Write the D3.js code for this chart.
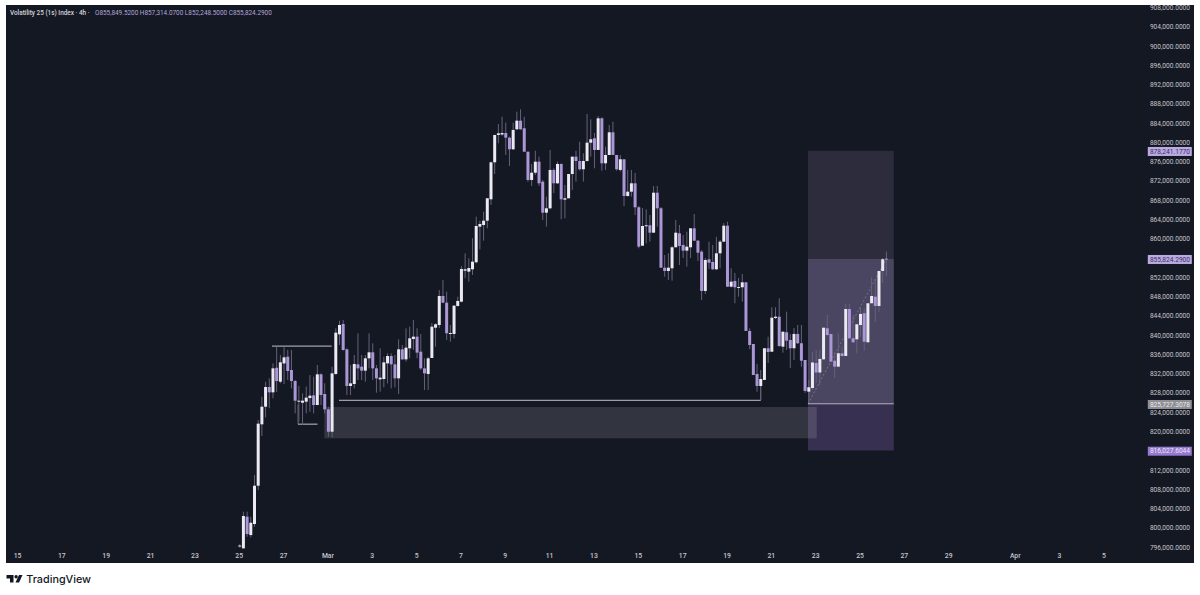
<!DOCTYPE html>
<html>
<head>
<meta charset="utf-8">
<title>Volatility 25 (1s) Index</title>
<script src="https://cdn.jsdelivr.net/npm/d3@7"></script>
<style>
html, body { margin: 0; padding: 0; background: #fff; }
svg { display: block; }
text { font-family: Roboto, "Open Sans", sans-serif; }
</style>
</head>
<body>
<div id="chart"></div>
<script>
// prices in thousands, one bar every 4h starting on 25 Feb
const opens = [796.2,795.72,802.29,798.48,800.77,808.72,821.46,825.12,829.21,828.1,833.2,830.31,834.1,835.5,832.74,830.45,826.16,825.95,826.16,826.92,827.48,825.47,831.84,827.75,824.57,819.93,
831.91,840.14,842.29,837.03,829.42,829.83,833.91,833.43,832.6,835.16,836.41,833.08,830.8,830.87,834.12,835.64,833.91,831.01,837.03,834.95,837.24,839.17,839.66,836.54,833.08,831.91,
835.23,841.52,842.08,848.1,846.71,840.26,840.22,846.03,846.92,853.35,853.15,853.64,855.1,862.49,862.84,863.73,868.17,875.85,881.52,881.62,881.93,880.96,878.55,882.7,884.49,882.91,
878.05,872.18,873.69,875.98,871.83,865.39,866.3,874.26,871.49,875.5,868.09,868.38,873.42,877.02,876.12,874.4,876.12,879.92,880.83,878.41,884.98,875.64,877.37,882.08,877.37,874.26,
876.48,868.86,869.75,871.49,866.51,858.54,862.57,862.78,861.24,869.54,866.3,853.97,853.29,853.85,858.21,861.11,858.69,857.51,858.21,862.15,859.58,857.3,849.14,855.72,855.16,853.64,
856.96,859.37,862.69,850.03,851.22,849.82,849.91,850.94,840.84,838.14,831.91,829.42,830.67,837.25,836.54,843.53,843.8,837.58,840.57,838.97,837.25,840.22,838.29,834.82,828.24,829.0,
834.2,832.22,834.96,841.4,840.22,834.67,833.43,836.21,835.65,845.4,839.32,839.11,842.08,844.51,838.49,846.59,847.96,846.03,853.29,855.85];
const closes = [796.3,802.43,798.69,801.04,808.72,821.6,825.12,829.21,828.1,833.08,830.45,834.33,835.37,832.53,830.45,826.37,826.37,826.37,827.0,827.41,825.47,831.84,827.55,824.57,819.93,832.04,
840.49,842.08,836.89,829.42,829.97,833.98,833.08,832.6,835.16,836.41,833.08,831.01,831.15,834.33,835.64,833.91,831.01,837.03,834.95,837.37,839.31,839.66,836.34,833.08,832.05,835.16,
841.73,842.23,848.1,846.71,840.36,840.42,846.09,847.07,853.71,853.64,853.91,855.22,862.63,863.05,863.73,868.38,875.85,881.52,881.87,881.93,880.96,878.55,882.56,884.49,882.7,878.05,
872.18,873.69,875.98,871.49,865.39,866.3,874.26,871.49,875.5,868.17,868.38,873.42,877.02,876.12,874.4,876.12,879.92,880.63,878.41,884.98,875.64,877.37,882.08,877.37,874.4,876.48,
868.86,869.75,871.49,866.51,858.34,862.63,862.78,861.24,869.54,866.3,853.97,853.29,853.97,858.21,861.24,858.48,857.51,858.34,862.15,859.58,857.09,849.14,855.57,855.01,853.64,856.96,
859.37,862.69,850.03,851.07,849.91,849.97,850.94,840.84,837.93,831.7,829.42,830.87,837.25,836.48,843.6,843.8,837.73,840.69,838.83,837.25,840.22,838.29,834.67,828.4,829.15,834.3,
832.22,835.03,841.52,840.0,834.47,833.43,836.21,835.65,845.4,839.32,838.49,842.23,844.37,838.61,846.59,848.1,846.03,853.29,855.72,855.82];
const highs = [796.6,803.33,803.33,802.29,810.94,822.36,827.2,830.3,831.0,834.1,837.6,835.85,837.44,836.9,836.9,830.66,829.41,827.9,829.3,831.7,831.35,833.77,832.04,829.97,825.12,833.43,
841.39,842.98,843.12,837.24,833.77,835.85,840.35,835.85,835.85,840.35,838.27,833.77,837.24,835.5,836.2,836.2,835.85,839.1,837.93,841.39,841.73,843.12,841.39,840.21,835.16,835.5,
842.5,842.44,849.35,851.42,849.0,842.08,846.23,847.96,854.33,856.96,855.93,860.08,864.56,863.73,865.6,868.44,875.98,881.52,883.8,885.32,884.07,881.17,884.07,886.36,886.85,885.32,
878.05,875.5,878.26,877.02,872.18,868.71,878.41,874.61,875.98,875.64,871.14,873.42,877.02,878.26,880.13,877.72,885.88,884.78,881.93,885.46,885.19,879.09,883.59,884.28,877.37,877.37,
876.48,874.26,874.26,873.63,866.78,866.37,866.1,864.91,870.93,870.93,866.57,856.61,856.96,858.48,863.88,862.84,860.76,861.45,862.15,865.12,859.72,857.65,855.99,859.37,858.69,860.41,
859.72,863.25,863.52,853.85,852.88,851.84,852.67,851.0,841.4,838.14,833.99,832.74,837.31,839.65,845.76,845.76,847.62,840.69,844.84,840.22,841.46,842.08,842.08,834.82,830.67,836.42,
836.89,836.89,841.52,844.16,840.22,836.54,840.36,837.58,846.44,846.44,844.16,842.29,845.88,845.61,846.65,851.98,851.57,853.29,855.99,857.31];
const lows = [795.9,795.72,798.14,798.0,800.21,807.82,819.03,822.9,824.8,826.85,828.2,829.97,829.83,830.66,828.93,823.74,822.01,821.3,823.74,824.09,823.74,825.47,825.47,823.74,818.9,818.76,
831.7,837.93,836.75,827.55,827.55,828.93,830.66,830.66,830.32,833.08,830.66,828.03,828.24,829.14,829.97,828.93,829.14,827.76,834.81,834.47,835.16,836.89,835.16,832.74,828.59,828.59,
835.23,837.58,841.46,846.65,838.97,838.62,839.32,845.88,846.79,851.78,851.07,852.46,854.89,857.79,859.58,862.15,866.99,873.42,879.8,881.31,877.37,875.08,878.41,882.56,882.56,878.05,
871.83,870.93,873.22,870.93,863.88,862.49,866.1,869.42,871.35,864.02,864.23,868.38,870.1,871.83,874.11,871.83,875.98,877.02,874.61,878.41,874.11,874.26,877.37,877.37,874.11,873.9,
866.78,868.71,868.71,864.91,858.0,858.48,859.04,859.37,861.24,862.49,853.97,852.11,851.42,851.28,858.21,854.54,855.99,854.18,855.99,859.52,855.37,847.27,848.52,853.71,853.5,853.5,
853.85,859.31,849.97,849.87,846.59,847.96,846.92,840.84,837.04,831.7,828.24,826.52,830.67,834.2,836.48,843.33,837.52,836.33,836.89,833.16,834.82,838.14,833.42,828.0,825.89,828.59,
830.05,829.63,834.82,839.8,834.4,831.08,833.36,835.44,835.65,839.18,838.35,836.21,839.59,836.75,838.49,846.59,842.77,844.84,850.8,852.25];

const priceTicks = d3.range(796, 909, 4);
const dateTicks = [["2025-02-15","15"],["2025-02-17","17"],["2025-02-19","19"],["2025-02-21","21"],["2025-02-23","23"],["2025-02-25","25"],["2025-02-27","27"],
  ["2025-03-01","Mar"],["2025-03-03","3"],["2025-03-05","5"],["2025-03-07","7"],["2025-03-09","9"],["2025-03-11","11"],["2025-03-13","13"],["2025-03-15","15"],
  ["2025-03-17","17"],["2025-03-19","19"],["2025-03-21","21"],["2025-03-23","23"],["2025-03-25","25"],["2025-03-27","27"],["2025-03-29","29"],
  ["2025-04-01","Apr"],["2025-04-03","3"],["2025-04-05","5"]];

// position tool levels
const levelTarget = 878.2411770;
const levelClose = 855.8242900;
const levelEntry = 825.7273078;
const levelStop = 816.0276044;
const zoneTop = 825.05;
const zoneBottom = 818.55;
const highLine = 837.7;
const lowLine = 821.5;
const supportLine = 826.45;

const W = 1200, H = 595;
const svg = d3.select("#chart").append("svg").attr("width", W).attr("height", H);

const startDay = new Date(Date.UTC(2025, 1, 15));
const x = d3.scaleUtc()
  .domain([startDay, new Date(Date.UTC(2025, 3, 5))])
  .range([17, 1103.4]);
const y = d3.scaleLinear().domain([796, 908]).range([547, 7.4]);

const firstBar = new Date(Date.UTC(2025, 1, 25));
const bars = opens.map((o, i) => ({
  t: d3.utcHour.offset(firstBar, 4 * i), o, c: closes[i], h: highs[i], l: lows[i]
}));
const barShift = 1; // candles sit a touch right of the date ticks
const barX = i => x(bars[i].t) + barShift;

// panel
svg.append("rect").attr("x", 6).attr("y", 5).attr("width", 1188).attr("height", 558).attr("fill", "#141823");

// long position box, bars[154] is the entry candle
const boxL = barX(154) - 0.8, boxR = 893.8;
const box = svg.append("g");
box.append("rect").attr("x", boxL).attr("width", boxR - boxL)
  .attr("y", y(levelTarget)).attr("height", y(levelClose) - y(levelTarget)).attr("fill", "#2c2c3c");
box.append("rect").attr("x", boxL).attr("width", boxR - boxL)
  .attr("y", y(levelClose)).attr("height", y(levelEntry) - y(levelClose)).attr("fill", "#4a4560");
box.append("rect").attr("x", boxL).attr("width", boxR - boxL)
  .attr("y", y(levelEntry)).attr("height", y(levelStop) - y(levelEntry)).attr("fill", "#383050");

// demand zone
svg.append("rect").attr("x", 324.3).attr("width", 816.7 - 324.3)
  .attr("y", y(zoneTop)).attr("height", y(zoneBottom) - y(zoneTop))
  .attr("fill", "#ffffff").attr("fill-opacity", 0.13);

box.append("line").attr("x1", boxL).attr("x2", boxR).attr("y1", y(levelEntry)).attr("y2", y(levelEntry))
  .attr("stroke", "#b5b3c0").attr("stroke-width", 1);
svg.append("line").attr("x1", boxL).attr("y1", y(levelEntry)).attr("x2", barX(175)).attr("y2", y(levelClose))
  .attr("stroke", "#ffffff").attr("stroke-opacity", 0.25).attr("stroke-dasharray", "2,2");

// hand drawn levels
const drawn = [
  [272, 331.7, highLine, highLine],
  [298, 317.5, lowLine, lowLine],
  [298, 298, lowLine, 825.6],
  [339, 760.7, supportLine, supportLine],
  [760.7, 760.7, supportLine, 829.4]
];
svg.append("g").selectAll("line").data(drawn).join("line")
  .attr("x1", d => d[0]).attr("x2", d => d[1])
  .attr("y1", d => y(d[2])).attr("y2", d => y(d[3]))
  .attr("stroke", "#c4c4c8").attr("stroke-width", 1)
  .attr("stroke-opacity", d => d[0] === d[1] ? 0.45 : 1);

// candles
const candles = svg.append("g").selectAll("g").data(bars).join("g")
  .attr("transform", d => `translate(${x(d.t) + barShift},0)`);
candles.append("line")
  .attr("y1", d => y(d.h)).attr("y2", d => y(d.l))
  .attr("stroke", "#64627a").attr("stroke-width", 1);
candles.append("rect")
  .attr("x", -1.5).attr("width", 3)
  .attr("y", d => y(Math.max(d.o, d.c)))
  .attr("height", d => Math.max(1, Math.abs(y(d.o) - y(d.c))))
  .attr("fill", d => d.c >= d.o ? "#ebe9f2" : "#ab97d8");

// price axis
const yAxis = svg.append("g").attr("transform", "translate(1190,0)")
  .call(d3.axisLeft(y).tickValues(priceTicks).tickSize(0).tickPadding(0)
    .tickFormat(d => d3.format(",.4f")(d * 1000)));
yAxis.select(".domain").remove();
yAxis.selectAll("text").attr("fill", "#c6c7cd").style("font-size", "6.6px").style("font-family", "Roboto");

// time axis
const xAxis = svg.append("g").attr("transform", "translate(0,553)")
  .call(d3.axisBottom(x).tickValues(dateTicks.map(d => new Date(d[0] + "T00:00:00Z"))).tickSize(0).tickPadding(0)
    .tickFormat((d, i) => dateTicks[i][1]));
xAxis.select(".domain").remove();
xAxis.selectAll("text").attr("fill", "#c6c7cd").style("font-size", "6.8px").style("font-weight", "500");

// price labels on the axis
const priceLabels = [
  [levelTarget, "#bba9e4", "#3a3158"],
  [levelClose, "#bba9e4", "#3a3158"],
  [levelEntry, "#8f8f95", "#e8e8ec"],
  [levelStop, "#9678d0", "#ece6f8"]
];
const labels = svg.append("g").selectAll("g").data(priceLabels).join("g")
  .attr("transform", d => `translate(0,${y(d[0]) + 0.7})`);
labels.append("rect").attr("x", 1147.8).attr("width", 44).attr("y", -4.5).attr("height", 9).attr("fill", d => d[1]);
labels.append("text").attr("x", 1190).attr("dy", "0.34em").attr("text-anchor", "end")
  .attr("fill", d => d[2]).style("font-size", "6.6px")
  .text(d => d3.format(",.4f")(d[0] * 1000));

// legend line
const legend = svg.append("text").attr("x", 10).attr("y", 15).style("font-size", "6.4px");
legend.append("tspan").attr("fill", "#d4d5dc").style("font-weight", "500").text("Volatility 25 (1s) Index · 4h ·");
legend.append("tspan").attr("x", 95).attr("fill", "#b4a6dc")
  .text("O855,849.5200  H857,314.0700  L852,248.5000  C855,824.2900");

// logo
const logo = svg.append("g").attr("transform", "translate(6.5,575)").attr("fill", "#131722");
logo.append("path").attr("d", "M0 0H7V7.6H3.5V3.4H0Z");
logo.append("circle").attr("cx", 9.6).attr("cy", 1.7).attr("r", 1.7);
logo.append("path").attr("d", "M12.5 0H16L12.6 7.6H9Z");
svg.append("text").attr("x", 26.3).attr("y", 582.5).attr("fill", "#131722")
  .style("font-family", "Inter").style("font-size", "10.8px").style("font-weight", "500").text("TradingView");
</script>
</body>
</html>
